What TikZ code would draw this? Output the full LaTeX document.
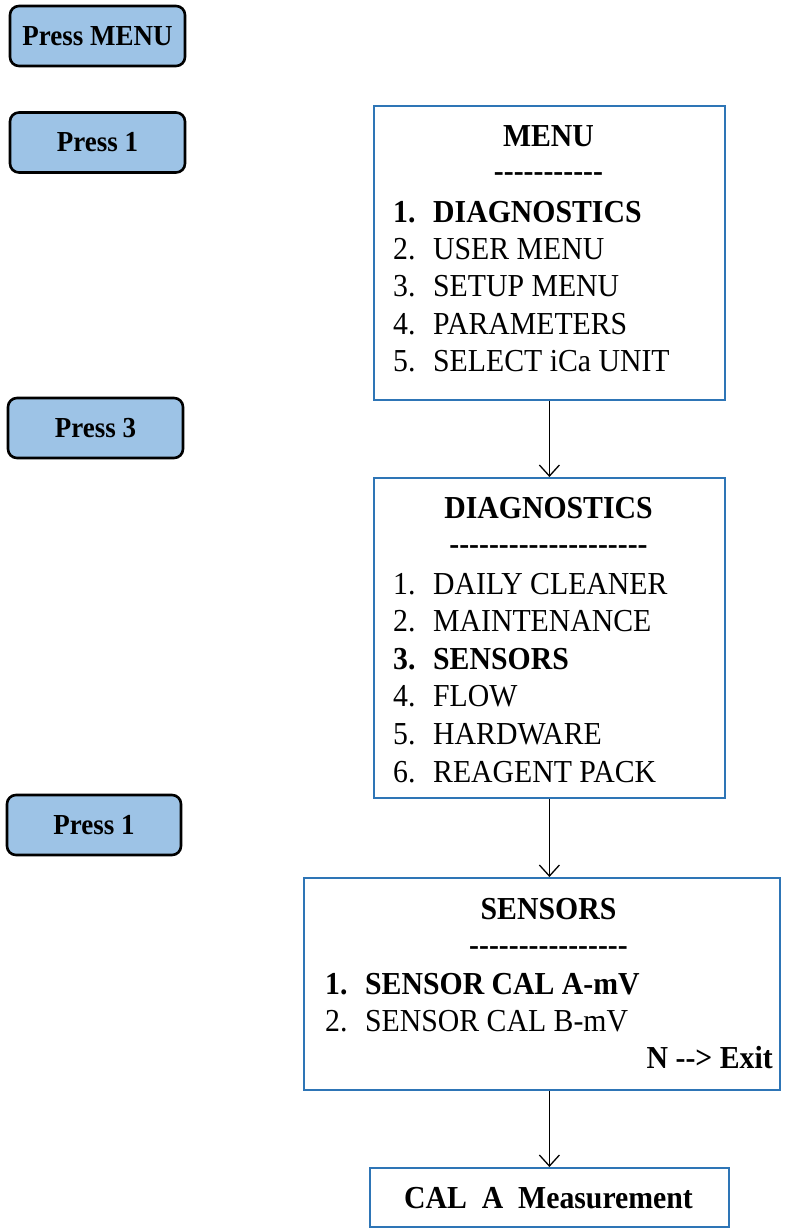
\documentclass[tikz,border=0pt]{standalone}
\usepackage{fontspec}
\setmainfont{Liberation Serif}[FakeStretch=0.93]
\usetikzlibrary{arrows.meta}
\definecolor{boxblue}{HTML}{2E75B6}
\definecolor{keyfill}{HTML}{9DC3E6}

\begin{document}
\begin{tikzpicture}[x=1pt,y=-1pt,
  keybox/.style={draw=black, line width=2.6pt, rounded corners=9pt, fill=keyfill,
    minimum width=175pt, minimum height=60pt, inner sep=0pt,
    font=\fontsize{29}{34}\selectfont\bfseries},
  screen/.style={draw=boxblue, line width=1.8pt, inner sep=0pt, anchor=north west},
  title/.style={anchor=base, inner sep=0pt, font=\fontsize{32}{38}\selectfont\bfseries},
  item/.style={anchor=base west, inner sep=0pt, font=\fontsize{32}{38}\selectfont},
  bolditem/.style={item, font=\fontsize{32}{38}\selectfont\bfseries},
  flow/.style={line width=1.3pt, -{Straight Barb[length=11pt,width=20pt,line width=1.3pt]}}
]
\useasboundingbox (0,0) rectangle (795,1229);

% key presses
\node[keybox] (k1) at (97.5,36) {Press MENU};
\node[keybox] (k2) at (97.5,142.5) {Press 1};
\node[keybox] (k3) at (95.5,428) {Press 3};
\node[keybox, minimum width=174pt] (k4) at (94,825) {Press 1};

% main menu screen
\node[screen, minimum width=351pt, minimum height=294pt] (menu) at (373,105) {};
\node[title] (menuT) at (548.5,146) {MENU};
\node[title] (menuD) at (548.5,181) {-{}-{}-{}-{}-{}-{}-{}-{}-{}-{}-};
\node[bolditem] (m1) at (393,222) {\makebox[40pt][l]{1.}DIAGNOSTICS};
\node[item] (m2) at (393,259) {\makebox[40pt][l]{2.}USER MENU};
\node[item] (m3) at (393,296) {\makebox[40pt][l]{3.}SETUP MENU};
\node[item] (m4) at (393,334) {\makebox[40pt][l]{4.}PARAMETERS};
\node[item] (m5) at (393,371) {\makebox[40pt][l]{5.}SELECT iCa UNIT};

% diagnostics screen
\node[screen, minimum width=351pt, minimum height=320pt] (diag) at (373,477) {};
\node[title] (diagT) at (548.5,518) {DIAGNOSTICS};
\node[title] (diagD) at (548.5,554) {-{}-{}-{}-{}-{}-{}-{}-{}-{}-{}-{}-{}-{}-{}-{}-{}-{}-{}-{}-};
\node[item] (d1) at (393,594) {\makebox[40pt][l]{1.}DAILY CLEANER};
\node[item] (d2) at (393,631) {\makebox[40pt][l]{2.}MAINTENANCE};
\node[bolditem] (d3) at (393,669) {\makebox[40pt][l]{3.}SENSORS};
\node[item] (d4) at (393,706) {\makebox[40pt][l]{4.}FLOW};
\node[item] (d5) at (393,744) {\makebox[40pt][l]{5.}HARDWARE};
\node[item] (d6) at (393,782) {\makebox[40pt][l]{6.}REAGENT PACK};

% sensors screen
\node[screen, minimum width=476pt, minimum height=212pt] (sens) at (303,877) {};
\node[title] (sensT) at (548.5,919) {SENSORS};
\node[title] (sensD) at (548.5,955) {-{}-{}-{}-{}-{}-{}-{}-{}-{}-{}-{}-{}-{}-{}-{}-};
\node[bolditem] (s1) at (325,994) {\makebox[40pt][l]{1.}SENSOR CAL A-mV};
\node[item] (s2) at (325,1031) {\makebox[40pt][l]{2.}SENSOR CAL B-mV};
\node[title, anchor=base east] (sexit) at (773,1068) {N -{}-> Exit};

% final screen
\node[screen, minimum width=359pt, minimum height=59pt] (cal) at (369,1167) {};
\node[title] (calT) at (548.5,1208) {CAL\ \ A\ \ Measurement};

% transitions
\draw[flow] (menu.south) -- (diag.north);
\draw[flow] (diag.south) -- (diag.south |- sens.north);
\draw[flow] (cal.north |- sens.south) -- (cal.north);
\end{tikzpicture}
\end{document}
